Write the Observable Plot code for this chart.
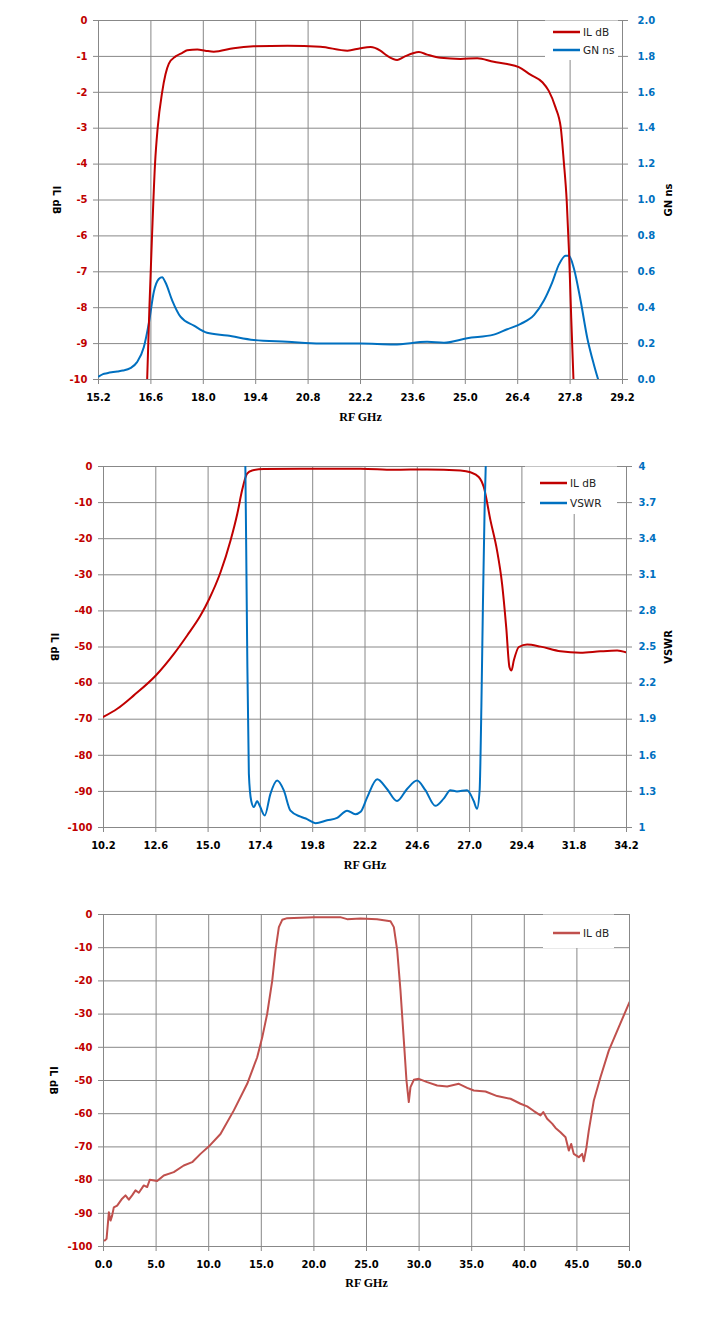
<!DOCTYPE html>
<html>
<head>
<meta charset="utf-8">
<script src="https://cdn.jsdelivr.net/npm/d3@7"></script>
<script src="https://cdn.jsdelivr.net/npm/@observablehq/plot@0.6"></script>
<style>
  body { margin: 0; background: #fff; }
  svg { display: block; }
</style>
</head>
<body>
<div id="chart1"></div>
<div id="chart2"></div>
<div id="chart3"></div>
<script>
// ---- datos grafico 1: IL dB + GN ns (15.2 - 29.2 GHz)
const ticksX1 = [15.2, 16.6, 18.0, 19.4, 20.8, 22.2, 23.6, 25.0, 26.4, 27.8, 29.2]
const ticksIL1 = [-10, -9, -8, -7, -6, -5, -4, -3, -2, -1, 0]
const ticksGN = [0, 0.2, 0.4, 0.6, 0.8, 1.0, 1.2, 1.4, 1.6, 1.8, 2.0]

const freqIL1 = [16.50, 16.56, 16.63, 16.71, 16.78, 16.90, 16.99, 17.08, 17.26, 17.44, 17.57, 17.84, 18.05, 18.28, 18.81, 19.34, 20.25, 21.13, 21.85, 22.2, 22.47, 22.73, 22.91, 23.18, 23.35, 23.76, 23.98, 24.34, 24.87, 25.32, 25.76, 26.12, 26.43, 26.74, 27.06, 27.23, 27.41, 27.55, 27.63, 27.71, 27.77, 27.83, 27.89]
const il1 = [-10.0, -8.0, -6.0, -4.0, -3.0, -2.0, -1.5, -1.2, -1.0, -0.9, -0.83, -0.81, -0.84, -0.87, -0.77, -0.72, -0.70, -0.73, -0.84, -0.77, -0.74, -0.84, -0.98, -1.10, -1.02, -0.88, -0.95, -1.04, -1.07, -1.05, -1.15, -1.21, -1.30, -1.51, -1.72, -1.96, -2.42, -2.98, -3.91, -5.03, -6.42, -8.28, -10.0]

const freqGN = [15.21, 15.32, 15.43, 15.55, 15.70, 15.85, 16.05, 16.23, 16.41, 16.55, 16.68, 16.81, 16.90, 16.99, 17.17, 17.39, 17.75, 18.10, 18.64, 19.35, 20.24, 21.13, 22.2, 23.09, 23.98, 24.43, 25.05, 25.76, 26.12, 26.48, 26.84, 27.10, 27.32, 27.50, 27.68, 27.77, 27.90, 28.08, 28.26, 28.44, 28.55]
const gn = [0.017, 0.03, 0.035, 0.04, 0.045, 0.05, 0.063, 0.097, 0.18, 0.32, 0.49, 0.56, 0.57, 0.54, 0.44, 0.35, 0.30, 0.26, 0.245, 0.22, 0.21, 0.20, 0.20, 0.195, 0.21, 0.205, 0.23, 0.25, 0.28, 0.31, 0.36, 0.44, 0.54, 0.64, 0.69, 0.69, 0.62, 0.44, 0.23, 0.08, 0.0]

// ---- datos grafico 2: IL dB + VSWR (10.2 - 34.2 GHz)
const ticksX2 = [10.2, 12.6, 15.0, 17.4, 19.8, 22.2, 24.6, 27.0, 29.4, 31.8, 34.2]
const ticksIL2 = [-100, -90, -80, -70, -60, -50, -40, -30, -20, -10, 0]
const ticksVSWR = [1, 1.3, 1.6, 1.9, 2.2, 2.5, 2.8, 3.1, 3.4, 3.7, 4]

const freqIL2 = [10.21, 10.83, 11.59, 12.6, 13.43, 14.04, 14.65, 15.05, 15.57, 16.03, 16.34, 16.56, 16.79, 17.02, 17.56, 19.24, 22.0, 23.52, 25.05, 26.58, 27.04, 27.42, 27.65, 27.96, 28.26, 28.49, 28.68, 28.83, 28.92, 29.03, 29.26, 29.64, 30.26, 31.17, 32.09, 33.0, 33.77, 34.18]
const il2 = [-69.3, -67.1, -63.4, -57.9, -51.9, -46.8, -41.3, -36.7, -29.3, -20.5, -13.1, -6.6, -2.0, -1.1, -0.7, -0.6, -0.6, -0.9, -0.8, -1.1, -1.6, -2.9, -5.7, -15, -23.3, -32.5, -44.5, -55.6, -56.5, -53.7, -50.0, -49.3, -49.9, -51.2, -51.6, -51.2, -51.0, -51.5]

const freqVSWR = [16.71, 16.75, 16.79, 16.87, 16.98, 17.10, 17.25, 17.37, 17.60, 17.86, 18.17, 18.47, 18.78, 19.24, 19.54, 19.93, 20.46, 20.92, 21.38, 21.76, 22.0, 22.3, 22.76, 23.21, 23.67, 24.13, 24.59, 24.97, 25.43, 25.81, 26.12, 26.42, 26.88, 27.19, 27.34, 27.46, 27.54, 27.61, 27.69, 27.74]
const vswr = [4.0, 3.3, 2.55, 1.45, 1.22, 1.17, 1.22, 1.18, 1.10, 1.28, 1.39, 1.31, 1.14, 1.09, 1.07, 1.036, 1.06, 1.08, 1.14, 1.11, 1.13, 1.25, 1.40, 1.32, 1.22, 1.32, 1.39, 1.31, 1.18, 1.24, 1.31, 1.30, 1.31, 1.22, 1.155, 1.31, 2.0, 2.83, 3.66, 4.0]

// ---- datos grafico 3: IL dB (0 - 50 GHz)
const ticksX3 = [0, 5, 10, 15, 20, 25, 30, 35, 40, 45, 50]
const ticksIL3 = [-100, -90, -80, -70, -60, -50, -40, -30, -20, -10, 0]

const freqIL3 = [0.12, 0.29, 0.51, 0.67, 0.82, 0.98, 1.3, 1.77, 2.09, 2.41, 2.72, 3.04, 3.36, 3.83, 4.15, 4.4, 5.1, 5.73, 6.68, 7.63, 8.43, 9.22, 10.0, 11.12, 12.39, 13.66, 14.61, 15.09, 15.56, 16.04, 16.35, 16.67, 16.99, 17.46, 19.99, 22.5, 23.16, 24.43, 26.0, 27.28, 27.6, 27.92, 28.23, 28.55, 28.8, 29.02, 29.18, 29.5, 29.97, 30.77, 31.72, 32.67, 33.78, 34.57, 35.2, 36.31, 37.42, 38.69, 39.64, 40.27, 40.91, 41.54, 41.8, 42.17, 42.65, 42.97, 43.44, 43.92, 44.23, 44.46, 44.7, 45.18, 45.5, 45.66, 45.91, 46.13, 46.61, 47.24, 48.03, 48.98, 50.0]
const il3 = [-98.2, -97.7, -89.7, -92.2, -90.7, -88.2, -87.7, -85.6, -84.6, -85.9, -84.6, -83.1, -83.8, -81.6, -82.1, -79.9, -80.3, -78.6, -77.6, -75.6, -74.6, -72.1, -69.9, -66.1, -59.0, -51.0, -43.0, -37.0, -29.9, -19.9, -10.8, -3.8, -1.6, -1.1, -0.8, -0.8, -1.4, -1.2, -1.4, -2.0, -3.8, -10.8, -22.9, -38.0, -50.0, -56.5, -52.0, -49.8, -49.5, -50.5, -51.5, -51.8, -51.0, -52.2, -53.0, -53.3, -54.7, -55.5, -57.0, -57.8, -59.2, -60.5, -59.5, -61.5, -63.0, -64.3, -65.6, -67.1, -71.1, -69.1, -72.1, -73.1, -72.1, -74.3, -70.1, -65.1, -56.0, -49.0, -41.0, -33.9, -26.4]

const ROJO = "#c00000"
const AZUL = "#0070c0"
const ROJO3 = "#c0504d"
const GRIS = "#888888"
const FUENTE = "DejaVu Sans, Verdana, sans-serif"

const zip = (xs, ys) => xs.map((x, i) => ({f: x, v: ys[i]}))

// ejes y grilla comunes
function ejes(ticksX, ticksY, xFmt) {
  return [
    Plot.gridX(ticksX, {stroke: GRIS, strokeOpacity: 1}),
    Plot.gridY(ticksY, {stroke: GRIS, strokeOpacity: 1}),
    Plot.frame({stroke: GRIS}),
    Plot.axisX(ticksX, {
      anchor: "bottom", label: null, tickSize: 5, tickPadding: 9,
      stroke: GRIS, fill: "#000", fontWeight: "bold", fontSize: 10,
      tickFormat: xFmt
    }),
    Plot.axisY(ticksY, {
      anchor: "left", label: null, tickSize: 5, tickPadding: 6,
      stroke: GRIS, fill: ROJO, fontWeight: "bold", fontSize: 10,
      tickFormat: d => String(d)
    }),
  ]
}

function etiquetas(izq, der, dxIzq, dxDer, dyAbajo) {
  let m = [
    Plot.text(["RF GHz"], {frameAnchor: "bottom", dy: dyAbajo, textAnchor: "middle", lineAnchor: "middle",
      fontFamily: "Liberation Serif, Times New Roman, serif", fontWeight: "bold", fontSize: 12, fill: "#000"}),
    Plot.text([izq], {frameAnchor: "left", dx: dxIzq, rotate: 90, textAnchor: "middle", lineAnchor: "middle",
      fontWeight: "bold", fontSize: 10, fill: "#000"}),
  ]
  if (der) m.push(Plot.text([der], {frameAnchor: "right", dx: dxDer, rotate: -90, textAnchor: "middle", lineAnchor: "middle",
      fontWeight: "bold", fontSize: 10, fill: "#000"}))
  return m
}

// leyenda estilo excel: caja blanca arriba a la derecha
function leyenda(svg, x0, x1, y0, y1, items) {
  const g = d3.select(svg).append("g").attr("text-anchor", "start")
  g.append("rect").attr("x", x0).attr("y", y0).attr("width", x1 - x0).attr("height", y1 - y0).attr("fill", "#fff")
  items.forEach(it => {
    g.append("line").attr("x1", it.lx).attr("x2", it.lx + 27).attr("y1", it.y).attr("y2", it.y)
      .attr("stroke", it.color).attr("stroke-width", 2.5)
    g.append("text").attr("x", it.lx + 30).attr("y", it.y).attr("dy", "0.35em")
      .attr("text-anchor", "start")
      .attr("font-family", FUENTE).attr("font-size", 10.5).attr("fill", "#222").text(it.label)
  })
}

// ---------- grafico 1
const gnAIL = d3.scaleLinear().domain([0, 2]).range([-10, 0])
const gnLabel = new Map(ticksGN.map(t => [gnAIL(t), t.toFixed(1)]))

let chart1 = Plot.plot({
  width: 718, height: 440,
  marginTop: 20, marginBottom: 61, marginLeft: 98, marginRight: 96,
  style: {fontFamily: FUENTE, fontSize: "10px", background: "#fff"},
  x: {domain: [15.2, 29.2]},
  y: {domain: [-10, 0]},
  marks: [
    ...ejes(ticksX1, ticksIL1, d => d.toFixed(1)),
    Plot.axisY(ticksGN.map(gnAIL), {
      anchor: "right", label: null, tickSize: 5, tickPadding: 10,
      stroke: GRIS, fill: AZUL, fontWeight: "bold", fontSize: 10,
      tickFormat: d => gnLabel.get(d)
    }),
    Plot.line(zip(freqGN, gn), {x: "f", y: d => gnAIL(d.v), stroke: AZUL, strokeWidth: 2, curve: "monotone-x", clip: true}),
    Plot.line(zip(freqIL1, il1), {x: "f", y: "v", stroke: ROJO, strokeWidth: 2, curve: "monotone-x", clip: true}),
    ...etiquetas("IL dB", "GN ns", -42, 46, 38),
  ]
})
leyenda(chart1, 545, 618, 20.5, 60, [
  {lx: 553, y: 32, color: ROJO, label: "IL dB"},
  {lx: 553, y: 50, color: AZUL, label: "GN ns"},
])
d3.select('#chart1').append(() => chart1)

// ---------- grafico 2
const vswrAIL = d3.scaleLinear().domain([1, 4]).range([-100, 0])
const vswrLabel = new Map(ticksVSWR.map(t => [vswrAIL(t), String(t)]))

let chart2 = Plot.plot({
  width: 718, height: 450,
  marginTop: 26, marginBottom: 63, marginLeft: 103, marginRight: 92,
  style: {fontFamily: FUENTE, fontSize: "10px", background: "#fff"},
  x: {domain: [10.2, 34.2]},
  y: {domain: [-100, 0]},
  marks: [
    ...ejes(ticksX2, ticksIL2, d => d.toFixed(1)),
    Plot.axisY(ticksVSWR.map(vswrAIL), {
      anchor: "right", label: null, tickSize: 5, tickPadding: 7,
      stroke: GRIS, fill: AZUL, fontWeight: "bold", fontSize: 10,
      tickFormat: d => vswrLabel.get(d)
    }),
    Plot.line(zip(freqIL2, il2), {x: "f", y: "v", stroke: ROJO, strokeWidth: 2, curve: "monotone-x", clip: true}),
    Plot.line(zip(freqVSWR, vswr), {x: "f", y: d => vswrAIL(d.v), stroke: AZUL, strokeWidth: 2, curve: "monotone-x", clip: true}),
    ...etiquetas("IL dB", "VSWR", -49, 42, 38),
  ]
})
leyenda(chart2, 525, 617, 26.5, 74, [
  {lx: 540, y: 43, color: ROJO, label: "IL dB"},
  {lx: 540, y: 63, color: AZUL, label: "VSWR"},
])
d3.select('#chart2').append(() => chart2)

// ---------- grafico 3
let chart3 = Plot.plot({
  width: 718, height: 442,
  marginTop: 24, marginBottom: 86, marginLeft: 103, marginRight: 89,
  style: {fontFamily: FUENTE, fontSize: "10px", background: "#fff"},
  x: {domain: [0, 50]},
  y: {domain: [-100, 0]},
  marks: [
    ...ejes(ticksX3, ticksIL3, d => d.toFixed(1)),
    Plot.line(zip(freqIL3, il3), {x: "f", y: "v", stroke: ROJO3, strokeWidth: 2, clip: true}),
    ...etiquetas("IL dB", null, -50, 0, 37),
  ]
})
leyenda(chart3, 543, 614, 24.5, 58, [
  {lx: 553, y: 43, color: ROJO3, label: "IL dB"},
])
d3.select('#chart3').append(() => chart3)
</script>
</body>
</html>
